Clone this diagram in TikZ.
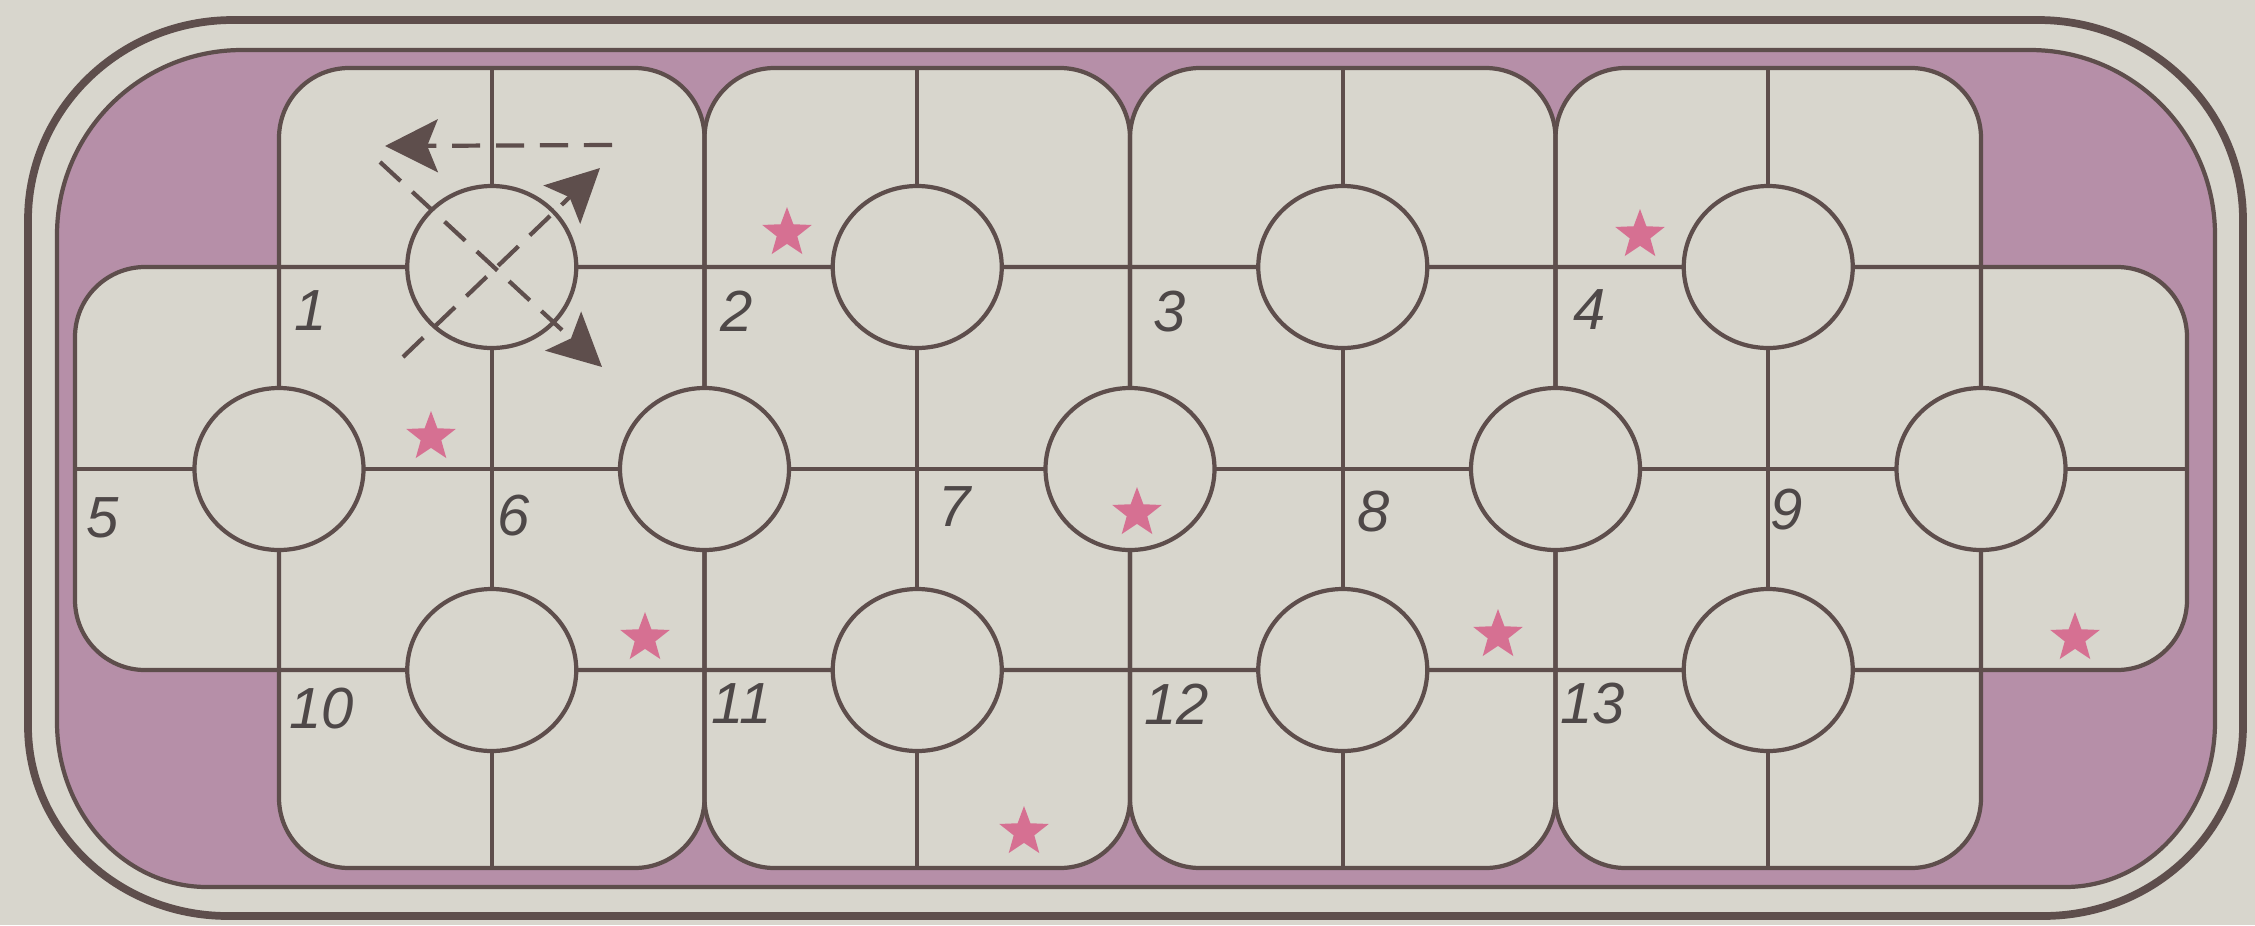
\documentclass[tikz,border=0pt]{standalone}
\usepackage{fontspec}
\newfontfamily\boardfont{Liberation Sans}
\usepackage{tikz}
\usetikzlibrary{arrows.meta, shapes.geometric}
\definecolor{paper}{RGB}{216,214,205}
\definecolor{plum}{RGB}{182,143,168}
\definecolor{ink}{RGB}{94,78,76}
\definecolor{starpink}{RGB}{214,112,146}
\definecolor{numgray}{RGB}{78,72,72}
\tikzset{
  rim/.style={draw=ink, line width=2.2pt},
  tray/.style={draw=ink, fill=plum, line width=1.2pt},
  gridline/.style={draw=ink, line width=1.2pt},
  tile/.style={fill=paper, rounded corners=7mm},
  hole/.style={ellipse, draw=ink, fill=paper, line width=1.2pt, inner sep=0pt,
    minimum width=16.9mm, minimum height=16.2mm},
  num/.style={anchor=north west, inner sep=0pt, text=numgray,
    font=\boardfont\itshape\fontsize{16.5}{18}\selectfont},
  starmark/.style={star, star points=5, star point ratio=2.4, fill=starpink,
    inner sep=0pt, minimum size=5.2mm},
  movearr/.style={draw=ink, line width=1.2pt, dash pattern=on 8pt off 4.5pt,
    -{Stealth[length=15pt, width=15pt, inset=3pt]}},
}

\begin{document}
\begin{tikzpicture}[x=0.1mm, y=-0.1mm]
  \useasboundingbox (0,0) rectangle (2255,925);
  \fill[paper] (0,0) rectangle (2255,925);
  % outer rim and purple tray
  \draw[rim] (28,220) arc[start angle=180, end angle=270, x radius=205, y radius=200]
    -- (2038,20) arc[start angle=270, end angle=360, x radius=205, y radius=200]
    -- (2243,726) arc[start angle=0, end angle=90, x radius=200, y radius=190]
    -- (228,916) arc[start angle=90, end angle=180, x radius=200, y radius=190] -- cycle;
  \filldraw[tray] (57,235) arc[start angle=180, end angle=270, x radius=185, y radius=185]
    -- (2030,50) arc[start angle=270, end angle=360, x radius=185, y radius=185]
    -- (2215,722) arc[start angle=0, end angle=90, x radius=150, y radius=165]
    -- (207,887) arc[start angle=90, end angle=180, x radius=150, y radius=165] -- cycle;
  % playing field: the long band and four tall blocks
  \fill[tile] (75,267) rectangle (2187,670);
  \fill[tile] (279,68) rectangle (704.5,868);
  \fill[tile] (704.5,68) rectangle (1130,868);
  \fill[tile] (1130,68) rectangle (1555.5,868);
  \fill[tile] (1555.5,68) rectangle (1981,868);
  \draw[gridline, rounded corners=7mm] (75,267) rectangle (2187,670);
  \draw[gridline, rounded corners=7mm] (279,68) rectangle (704.5,868);
  \draw[gridline, rounded corners=7mm] (704.5,68) rectangle (1130,868);
  \draw[gridline, rounded corners=7mm] (1130,68) rectangle (1555.5,868);
  \draw[gridline, rounded corners=7mm] (1555.5,68) rectangle (1981,868);
  \draw[gridline] (491.75,68) -- (491.75,868);
  \draw[gridline] (917.25,68) -- (917.25,868);
  \draw[gridline] (1342.75,68) -- (1342.75,868);
  \draw[gridline] (1768.25,68) -- (1768.25,868);
  \draw[gridline] (75,469) -- (2187,469);
  % holes
  \node[hole] (t1) at (491.75,267) {};
  \node[hole] (t2) at (917.25,267) {};
  \node[hole] (t3) at (1342.75,267) {};
  \node[hole] (t4) at (1768.25,267) {};
  \node[hole] (m1) at (279,469) {};
  \node[hole] (m2) at (704.5,469) {};
  \node[hole] (m3) at (1130,469) {};
  \node[hole] (m4) at (1555.5,469) {};
  \node[hole] (m5) at (1981,469) {};
  \node[hole] (b1) at (491.75,670) {};
  \node[hole] (b2) at (917.25,670) {};
  \node[hole] (b3) at (1342.75,670) {};
  \node[hole] (b4) at (1768.25,670) {};
  % numbers
  \node[num] (n1) at (294,290) {1};
  \node[num] (n2) at (720,290) {2};
  \node[num] (n3) at (1153,290) {3};
  \node[num] (n4) at (1573,289) {4};
  \node[num] (n5) at (86,497) {5};
  \node[num] (n6) at (497,494) {6};
  \node[num] (n7) at (938,486) {7};
  \node[num] (n8) at (1357,490) {8};
  \node[num] (n9) at (1770,488) {9};
  \node[num] (n10) at (289,687) {10};
  \node[num] (n11) at (711,683) {11};
  \node[num] (n12) at (1144,683) {12};
  \node[num] (n13) at (1560,682) {13};
  % stars
  \node[starmark] (s1) at (787,233) {};
  \node[starmark] (s2) at (1640,235) {};
  \node[starmark] (s3) at (431,437) {};
  \node[starmark] (s4) at (1137,513) {};
  \node[starmark] (s5) at (645,638) {};
  \node[starmark] (s6) at (1024,832) {};
  \node[starmark] (s7) at (1498,635) {};
  \node[starmark] (s8) at (2075,638) {};
  % moves from the first hole
  \coordinate (hfrom) at (612,145);
  \coordinate (hto) at (385,146);
  \coordinate (dafrom) at (380,162);
  \coordinate (dato) at (602,367);
  \coordinate (dbfrom) at (403,357);
  \coordinate (dbto) at (600,168);
  \draw[movearr] (hfrom) -- (hto);
  \draw[movearr] (dafrom) -- (dato);
  \draw[movearr] (dbfrom) -- (dbto);
\end{tikzpicture}
\end{document}
